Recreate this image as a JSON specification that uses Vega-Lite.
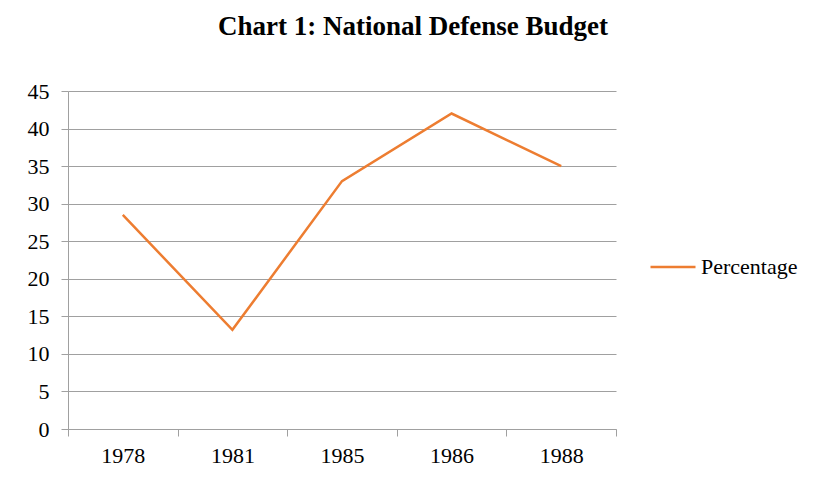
{
  "$schema": "https://vega.github.io/schema/vega-lite/v6.json",
  "width": 548,
  "height": 338,
  "autosize": {"type": "none"},
  "padding": {"left": 68, "top": 91, "right": 201, "bottom": 55},
  "background": "white",
  "title": {
    "text": "Chart 1: National Defense Budget",
    "font": "Liberation Serif",
    "fontSize": 27,
    "fontWeight": "bold",
    "color": "#000000",
    "anchor": "middle",
    "frame": "group",
    "dx": 71,
    "offset": 39
  },
  "data": {
    "values": [
      {"year": "1978", "value": 28.5, "series": "Percentage"},
      {"year": "1981", "value": 13.2, "series": "Percentage"},
      {"year": "1985", "value": 33.0, "series": "Percentage"},
      {"year": "1986", "value": 42.0, "series": "Percentage"},
      {"year": "1988", "value": 35.0, "series": "Percentage"}
    ]
  },
  "mark": {"type": "line", "strokeWidth": 2.5},
  "encoding": {
    "x": {
      "field": "year",
      "type": "ordinal",
      "scale": {"type": "band", "paddingInner": 0, "paddingOuter": 0},
      "axis": {
        "title": null,
        "labelAngle": 0,
        "tickBand": "extent",
        "tickSize": 7,
        "labelPadding": 9,
        "labelFont": "Liberation Serif",
        "labelFontSize": 22,
        "labelColor": "#000000",
        "domainColor": "#a0a0a0",
        "tickColor": "#a0a0a0",
        "grid": false
      }
    },
    "y": {
      "field": "value",
      "type": "quantitative",
      "scale": {"domain": [0, 45], "nice": false},
      "axis": {
        "title": null,
        "values": [0, 5, 10, 15, 20, 25, 30, 35, 40, 45],
        "tickSize": 7,
        "labelPadding": 12,
        "labelFont": "Liberation Serif",
        "labelFontSize": 22,
        "labelColor": "#000000",
        "domainColor": "#a0a0a0",
        "tickColor": "#a0a0a0",
        "gridColor": "#a0a0a0",
        "grid": true
      }
    },
    "color": {
      "field": "series",
      "type": "nominal",
      "scale": {"range": ["#ED7D31"]},
      "legend": {
        "title": null,
        "orient": "none",
        "legendX": 581,
        "legendY": 152,
        "symbolType": "stroke",
        "symbolSize": 2025,
        "symbolStrokeWidth": 2.5,
        "labelFont": "Liberation Serif",
        "labelFontSize": 22,
        "labelColor": "#000000",
        "labelOffset": 4
      }
    }
  },
  "config": {"view": {"stroke": null}}
}
